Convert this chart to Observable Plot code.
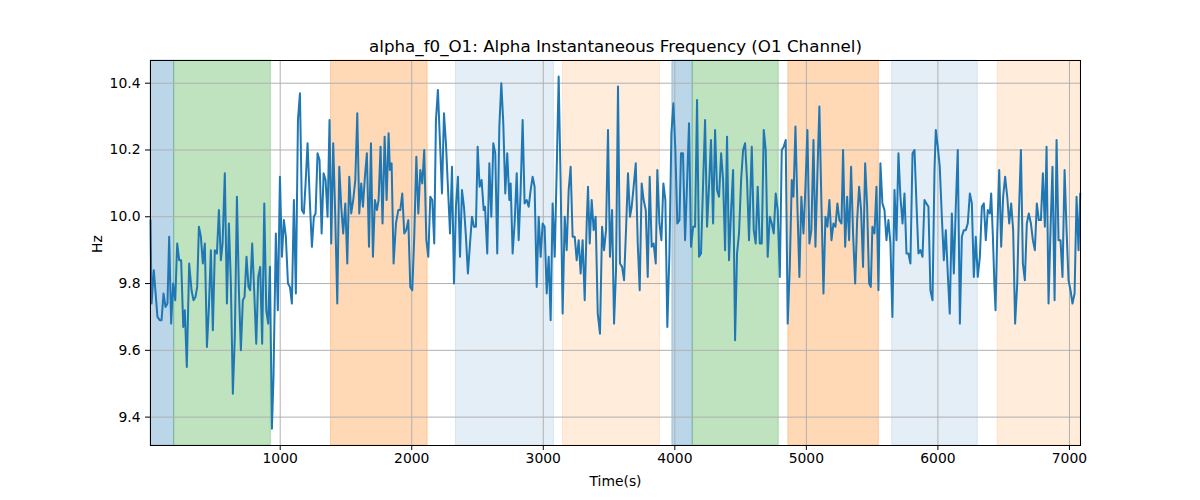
<!DOCTYPE html>
<html>
<head>
<meta charset="utf-8">
<script src="https://cdn.jsdelivr.net/npm/d3@7"></script>
<script src="https://cdn.jsdelivr.net/npm/@observablehq/plot@0.6"></script>
<style>
  html, body { margin: 0; padding: 0; background: #ffffff; }
  #chart svg { display: block; }
</style>
</head>
<body>
<div id="chart"></div>
<script>
const titleText = "alpha_f0_O1: Alpha Instantaneous Frequency (O1 Channel)";
const xLabel = "Time(s)";
const yLabel = "Hz";
const xTicks = [1000, 2000, 3000, 4000, 5000, 6000, 7000];
const yTicks = [9.4, 9.6, 9.8, 10.0, 10.2, 10.4];
const xDomain = [14, 7084];
const yDomain = [9.315, 10.468];

const spanStart = [14, 194, 1386, 2336, 3150, 3981, 4136, 4863, 5652, 6454];
const spanEnd   = [194, 929, 2121, 3081, 3887, 4136, 4790, 5551, 6303, 7084];
const spanColor = ["#1f77b4", "#2ca02c", "#ff7f0e", "#1f77b4", "#ff7f0e", "#1f77b4", "#2ca02c", "#ff7f0e", "#1f77b4", "#ff7f0e"];
const spanAlpha = [0.3, 0.3, 0.3, 0.12, 0.15, 0.3, 0.3, 0.3, 0.12, 0.15];

// [time (s), frequency (Hz)]
const series = [
[14,9.99],[22,9.74],[39,9.84],[67,9.70],[85,9.69],[98,9.69],[113,9.77],[128,9.73],[143,9.74],[156,9.94],
[171,9.68],[186,9.80],[202,9.75],[217,9.92],[232,9.87],[247,9.87],[263,9.67],[275,9.72],[290,9.55],[308,9.86],
[326,9.78],[341,9.75],[356,9.76],[369,9.79],[382,9.97],[397,9.94],[412,9.86],[427,9.92],[443,9.61],[458,9.73],
[473,9.90],[488,9.66],[503,9.90],[519,9.89],[534,10.02],[549,9.87],[562,9.92],[579,10.13],[595,9.74],[610,9.98],
[625,9.80],[640,9.47],[655,9.64],[671,10.06],[686,9.78],[701,9.60],[716,9.75],[729,9.76],[744,9.88],[759,9.79],
[772,9.78],[787,9.92],[802,9.78],[818,9.62],[833,9.82],[848,9.85],[863,9.62],[879,10.04],[894,9.72],[909,9.68],
[922,9.85],
[937,9.365],[949,9.52],[967,9.95],[982,9.72],[998,10.12],[1013,9.88],[1028,9.99],[1043,9.94],[1059,9.80],[1074,9.79],
[1089,9.74],[1104,10.05],[1119,9.77],[1135,10.29],[1150,10.37],[1165,10.02],[1180,10.01],[1193,10.10],[1208,10.22],[1226,10.04],
[1241,9.91],[1256,10.00],[1269,10.01],[1284,10.19],[1299,10.17],[1315,9.95],[1330,10.13],[1345,10.11],[1360,10.00],[1375,10.29],
[1388,9.92],[1403,10.22],[1418,10.01],[1434,9.74],[1449,10.15],[1464,10.03],[1479,9.95],[1495,10.04],[1510,9.86],[1525,10.12],
[1540,10.01],[1555,10.05],[1571,10.11],[1586,10.31],[1601,10.01],[1616,10.10],[1629,10.03],[1644,10.12],[1659,10.19],[1675,9.91],
[1690,10.22],[1705,9.88],[1720,10.05],[1735,10.02],[1748,10.05],[1763,10.21],[1778,9.98],[1794,10.24],[1809,10.05],[1824,10.25],
[1834,10.14],[1847,10.16],[1862,9.86],[1880,9.98],[1898,10.02],[1913,10.02],[1928,10.07],[1943,9.95],[1958,9.96],[1974,9.99],
[1989,9.79],[2004,9.78],[2019,9.94],[2035,10.18],[2050,10.01],[2065,10.14],[2080,10.10],[2095,10.20],[2111,9.93],[2126,9.88],
[2141,10.06],[2156,10.05],[2171,9.92],[2184,10.29],[2199,10.38],[2215,10.22],[2230,10.07],[2245,10.31],[2260,10.22],[2275,10.09],
[2291,9.95],[2306,10.15],[2321,9.80],[2336,10.03],[2351,10.12],[2367,9.88],[2382,10.08],[2397,10.03],[2412,9.94],[2427,9.83],
[2443,9.92],[2458,10.00],[2473,9.97],[2488,9.97],[2501,10.21],[2516,10.09],[2531,10.11],[2547,10.02],[2557,10.03],[2574,9.89],
[2590,10.16],[2605,10.00],[2620,10.22],[2635,10.19],[2650,9.89],[2666,10.27],[2681,10.40],[2696,10.28],[2711,10.07],[2726,10.19],
[2742,10.05],
[2752,10.10],[2767,9.89],[2782,9.98],[2798,10.13],[2813,9.93],[2828,10.08],[2843,10.29],[2858,10.04],[2874,10.05],[2889,10.03],
[2904,10.08],[2919,10.12],[2934,10.09],[2950,9.79],[2965,10.00],[2980,9.88],[2995,9.98],[3010,9.97],[3026,9.77],[3041,9.88],
[3056,9.69],[3071,10.04],[3087,9.88],[3102,10.14],[3117,10.42],[3132,10.10],[3147,9.71],[3163,10.00],[3178,9.90],[3193,10.08],
[3208,10.15],[3223,9.94],[3239,9.94],[3254,9.87],[3269,9.93],[3284,9.83],[3299,9.93],[3315,9.75],[3330,9.98],[3340,10.09],
[3353,9.92],[3368,10.05],[3383,9.96],[3398,10.00],[3414,9.71],[3431,9.65],[3447,9.97],[3462,9.90],[3477,9.96],[3492,10.26],
[3507,9.88],[3523,10.02],[3538,9.68],[3553,9.84],[3568,10.39],[3583,9.86],[3599,9.85],[3614,9.81],[3629,9.96],[3644,10.13],
[3659,10.00],
[3672,10.03],[3687,10.09],[3703,10.16],[3718,9.92],[3733,9.78],[3748,10.10],[3763,10.05],[3779,10.02],[3794,9.82],[3809,10.12],
[3824,9.91],[3839,9.92],[3855,9.86],[3867,10.14],[3883,9.98],[3898,9.93],[3913,10.10],[3928,10.05],[3943,9.67],[3959,9.89],
[3974,10.25],[3989,10.34],[4004,10.20],[4019,9.98],[4035,9.99],[4047,10.19],[4062,10.19],[4078,9.93],[4093,10.10],[4108,10.28],
[4123,9.91],[4139,9.97],[4154,9.97],[4169,10.35],[4184,9.88],[4199,9.89],[4215,10.10],[4230,10.29],[4245,9.97],[4260,10.09],
[4275,10.23],[4291,9.98],[4306,10.26],[4321,10.08],[4336,10.06],[4352,10.19],[4367,10.11],[4382,9.90],[4397,10.24],[4412,9.87],
[4428,10.02],[4443,10.14],[4458,9.63],[4473,9.89],[4488,9.95],[4504,10.11],[4519,10.20],[4534,10.22],[4549,10.11],[4564,9.93],
[4585,10.21],[4600,9.96],[4615,9.92],[4630,10.09],[4646,9.92],[4661,9.92],[4676,10.26],[4691,10.20],[4706,9.88],[4722,10.00],
[4737,9.98],[4752,9.95],[4767,10.07],[4782,10.02],[4798,9.82],[4813,10.20],[4828,10.21],[4843,10.23],[4858,9.68],[4874,9.85],
[4889,10.11],[4902,10.06],[4917,10.27],[4932,10.03],[4947,9.82],[4962,10.06],[4978,9.95],[4993,10.09],[5008,10.26],[5023,9.92],
[5038,9.96],[5054,10.23],[5069,9.91],[5084,10.13],[5099,10.33],[5115,10.03],[5130,9.77],[5145,10.00],[5160,9.97],[5175,10.05],
[5191,9.93],[5206,9.98],[5221,9.97],[5236,10.04],[5251,9.99],[5267,9.98],[5279,10.20],[5295,9.91],[5310,10.06],[5325,9.93],
[5340,10.15],[5355,9.95],[5371,9.80],[5386,9.99],[5401,10.09],[5416,10.02],[5431,9.85],[5447,10.16],[5462,10.03],[5477,9.80],
[5490,9.79],[5502,9.97],[5518,9.95],[5533,10.09],[5548,9.78],[5563,10.16],[5578,10.04],[5594,10.02],[5609,9.93],[5624,9.99],
[5639,9.92],[5654,9.70],[5670,10.08],[5685,9.93],[5700,10.19],[5715,10.06],[5731,9.98],[5746,10.07],[5761,9.89],[5776,9.89],
[5791,9.86],[5807,10.19],[5822,10.20],[5837,10.04],[5852,9.89],[5867,9.90],[5883,9.88],[5898,10.05],[5913,10.04],[5928,10.03],
[5943,9.78],[5959,9.75],[5974,10.14],[5984,10.26],[5999,10.21],[6014,10.15],[6030,10.00],[6045,9.87],[6060,9.96],[6075,9.83],
[6090,9.71],[6106,10.01],[6121,9.83],[6136,10.03],[6151,10.20],[6167,9.68],[6182,9.94],[6197,9.96],[6212,9.96],[6227,9.98],
[6243,10.07],[6258,10.04],[6273,9.82],[6288,9.94],[6303,9.82],[6319,9.88],[6334,10.03],[6349,10.04],[6364,9.93],[6379,10.02],
[6395,10.01],
[6405,10.07],[6418,9.94],[6430,9.79],[6438,9.72],[6451,9.95],[6466,10.14],[6481,9.91],[6496,10.06],[6511,10.12],[6527,10.06],
[6542,9.98],[6557,10.04],[6572,9.96],[6587,9.68],[6603,9.80],[6615,10.00],[6631,10.20],[6646,9.86],[6661,9.81],[6676,9.98],
[6691,10.01],[6707,9.98],[6722,9.93],[6737,9.90],[6752,10.04],[6767,9.99],[6783,9.99],[6798,10.13],[6813,9.97],[6826,10.21],
[6841,9.74],[6856,9.96],[6871,10.15],[6887,9.75],[6902,10.23],[6917,9.93],[6932,9.93],[6947,9.82],[6963,10.14],[6978,9.96],
[6993,9.81],[7008,9.78],[7023,9.74],[7039,9.77],[7054,10.06],[7069,9.90],[7082,10.07]
];

const spans = spanStart.map((s, i) => ({start: s, end: spanEnd[i], color: spanColor[i], alpha: spanAlpha[i]}));
const points = series.map(([t, v]) => ({t, v}));

const chart = Plot.plot({
  width: 1200,
  height: 500,
  marginLeft: 150,
  marginRight: 120,
  marginTop: 60,
  marginBottom: 55,
  style: {fontFamily: "DejaVu Sans", fontSize: "13.9px", color: "#000", background: "#fff"},
  x: {domain: xDomain, label: null},
  y: {domain: yDomain, label: null},
  opacity: {type: "identity"},
  marks: [
    Plot.rect(spans, {x1: "start", x2: "end", fill: "color", fillOpacity: "alpha", stroke: "color", strokeOpacity: "alpha", strokeWidth: 1}),
    Plot.gridX(xTicks, {stroke: "#b0b0b0", strokeOpacity: 1, strokeWidth: 1}),
    Plot.gridY(yTicks, {stroke: "#b0b0b0", strokeOpacity: 1, strokeWidth: 1}),
    Plot.line(points, {x: "t", y: "v", stroke: "#1f77b4", strokeWidth: 2, strokeLinejoin: "round"}),
    Plot.frame({stroke: "#000", strokeWidth: 1}),
    Plot.axisX(xTicks, {tickSize: 5, tickPadding: 3, fontSize: 13.9, tickFormat: d => String(d), label: null}),
    Plot.axisY(yTicks, {tickSize: 5, tickPadding: 5, fontSize: 13.9, tickFormat: d3.format(".1f"), label: null}),
    Plot.text([titleText], {frameAnchor: "top", lineAnchor: "middle", dy: -14, fontSize: 16.7, text: d => d}),
    Plot.text([xLabel], {frameAnchor: "bottom", lineAnchor: "middle", dy: 36, fontSize: 13.9, text: d => d}),
    Plot.text([yLabel], {frameAnchor: "left", lineAnchor: "middle", dx: -53, rotate: -90, fontSize: 13.9, text: d => d})
  ]
});
document.getElementById("chart").appendChild(chart);
</script>
</body>
</html>
